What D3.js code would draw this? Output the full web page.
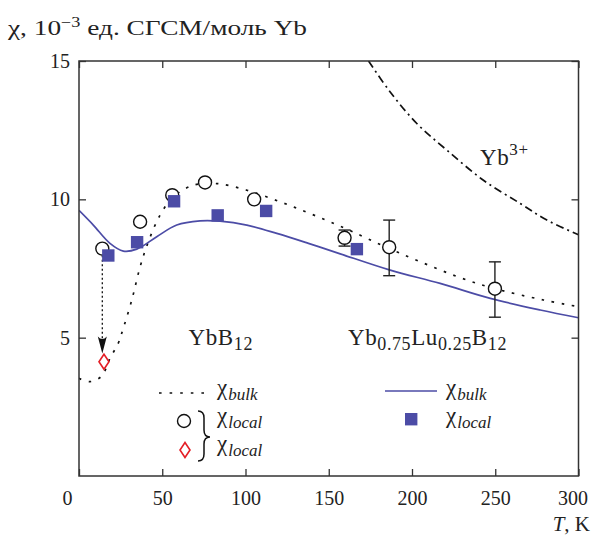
<!DOCTYPE html>
<html>
<head>
<meta charset="utf-8">
<script src="https://cdn.jsdelivr.net/npm/d3@7"></script>
<style>
  body { margin: 0; background: #fff; }
  svg text { font-family: "Liberation Serif", "DejaVu Serif", serif; fill: #222; }
</style>
</head>
<body>
<svg id="canvas"></svg>
<script>
//--axis ticks
let tempTicks = [0, 50, 100, 150, 200, 250, 300]
let chiTicks = [5, 10, 15]
//--

//--series, [T (K), chi (10^-3 emu/mol Yb)]
let bulkYbB12 = [[0, 3.53], [6.6, 3.41], [13.6, 3.61], [18.6, 4.25], [23.6, 4.8], [25.6, 5.15], [31.7, 6.36], [36.7, 7.56],
  [41.6, 8.46], [48.7, 9.43], [56.7, 10.09], [68.7, 10.51], [82.7, 10.57], [100.8, 10.33], [120.8, 9.91], [137.8, 9.51],
  [156.9, 9.03], [192.9, 8.05], [239, 6.96], [279, 6.36], [300, 6.12]]
let bulkYbLu = [[0, 9.6], [8.6, 9.07], [18.6, 8.41], [26.6, 8.13], [34.7, 8.2], [46.7, 8.65], [58.7, 9.07], [72.7, 9.22],
  [84.7, 9.21], [100.8, 9.07], [118.8, 8.77], [137.8, 8.41], [156.9, 8.03], [186.9, 7.44], [216.9, 6.96], [247, 6.42],
  [277, 6.0], [300, 5.72]]
let freeIon = [[173.9, 15.0], [186.9, 13.88], [202.9, 12.74], [220.9, 11.78], [242.9, 10.69], [265, 9.85], [281, 9.25], [300, 8.72]]
let localYbB12 = [[14, 8.22], [36.7, 9.19], [56, 10.15], [75.7, 10.61], [105.2, 10.0], [159.5, 8.61], [186.3, 8.27], [249.8, 6.77]]
let localErr = [null, null, null, null, null, [8.31, 8.89], [7.24, 9.25], [5.74, 7.74]]
let localYbLu = [[17.6, 7.97], [34.9, 8.45], [57.1, 9.93], [83.3, 9.42], [112.4, 9.58], [166.9, 8.2]]
let localLowT = [[15, 4.13]]
let arrowT = 14
let arrowFrom = 7.98
let arrowTo = 4.43
//--

//--canvas
let width = 592
let height = 535
let mLeft = 79, mRight = 578.5, mTop = 61, mBottom = 476

let canvas = d3.select("#canvas").attr("width", width).attr("height", height)

let x = d3.scaleLinear().domain([0, 300]).range([mLeft, mRight])
let y = d3.scaleLinear().domain([0, 15]).range([mBottom, mTop])

let blue = "#4c4ca6"
//--

//--clip + curves
canvas.append("clipPath").attr("id", "plot")
  .append("rect").attr("x", mLeft).attr("y", mTop).attr("width", mRight - mLeft).attr("height", mBottom - mTop)

let line = d3.line().x(d => x(d[0])).y(d => y(d[1])).curve(d3.curveCatmullRom.alpha(0.5))

let curves = canvas.append("g").attr("clip-path", "url(#plot)")

curves.append("path").attr("d", line(bulkYbB12))
  .attr("fill", "none").attr("stroke", "#111").attr("stroke-width", 1.7).attr("stroke-dasharray", "2.6,7.6")

curves.append("path").attr("d", line(bulkYbLu))
  .attr("fill", "none").attr("stroke", blue).attr("stroke-width", 1.7)

curves.append("path").attr("d", line(freeIon))
  .attr("fill", "none").attr("stroke", "#111").attr("stroke-width", 1.7).attr("stroke-dasharray", "8,4,2,4")
//--

//--arrow from the circle down to the diamond
canvas.append("line")
  .attr("x1", x(arrowT)).attr("x2", x(arrowT))
  .attr("y1", y(arrowFrom)).attr("y2", y(arrowTo) - 10)
  .attr("stroke", "#111").attr("stroke-width", 1.3).attr("stroke-dasharray", "2,2.5")

let ax = x(arrowT), ay = y(arrowTo)
canvas.append("path")
  .attr("d", `M${ax},${ay} L${ax - 4.5},${ay - 17} Q${ax},${ay - 12} ${ax + 4.5},${ay - 17} Z`)
  .attr("fill", "#111")
//--

//--error bars and markers
let errs = canvas.append("g").attr("stroke", "#222").attr("stroke-width", 1.4)
localYbB12.forEach((d, i) => {
  let e = localErr[i]
  if (!e) return
  errs.append("line").attr("x1", x(d[0])).attr("x2", x(d[0])).attr("y1", y(e[0])).attr("y2", y(e[1]))
  errs.append("line").attr("x1", x(d[0]) - 6).attr("x2", x(d[0]) + 6).attr("y1", y(e[0])).attr("y2", y(e[0]))
  errs.append("line").attr("x1", x(d[0]) - 6).attr("x2", x(d[0]) + 6).attr("y1", y(e[1])).attr("y2", y(e[1]))
})

canvas.selectAll("circle.loc")
  .data(localYbB12)
  .enter()
  .append("circle")
  .attr("class", "loc")
  .attr("cx", d => x(d[0]))
  .attr("cy", d => y(d[1]))
  .attr("r", 6.5)
  .attr("fill", "#fff")
  .attr("stroke", "#111")
  .attr("stroke-width", 1.4)

canvas.selectAll("rect.sq")
  .data(localYbLu)
  .enter()
  .append("rect")
  .attr("class", "sq")
  .attr("x", d => x(d[0]) - 6.2)
  .attr("y", d => y(d[1]) - 6.2)
  .attr("width", 12.4)
  .attr("height", 12.4)
  .attr("fill", blue)

canvas.selectAll("path.dia")
  .data(localLowT)
  .enter()
  .append("path")
  .attr("class", "dia")
  .attr("d", d => {
    let cx = x(d[0]), cy = y(d[1])
    return `M${cx},${cy - 7.5} L${cx + 5},${cy} L${cx},${cy + 7.5} L${cx - 5},${cy} Z`
  })
  .attr("fill", "#fff")
  .attr("stroke", "#e41e26")
  .attr("stroke-width", 1.6)
//--

//--frame and ticks (all ticks point inward)
canvas.append("rect")
  .attr("x", mLeft).attr("y", mTop).attr("width", mRight - mLeft).attr("height", mBottom - mTop)
  .attr("fill", "none").attr("stroke", "#333").attr("stroke-width", 1.5)

let xb = canvas.append("g").attr("transform", `translate(0,${mBottom})`)
  .call(d3.axisBottom(x).tickValues(tempTicks).tickSize(-7).tickPadding(15).tickFormat(d3.format("d")))
let xt = canvas.append("g").attr("transform", `translate(0,${mTop})`)
  .call(d3.axisTop(x).tickValues(tempTicks).tickSize(-7).tickFormat(""))
let yl = canvas.append("g").attr("transform", `translate(${mLeft},0)`)
  .call(d3.axisLeft(y).tickValues(chiTicks).tickSize(-7).tickPadding(9))
let yr = canvas.append("g").attr("transform", `translate(${mRight},0)`)
  .call(d3.axisRight(y).tickValues(chiTicks).tickSize(-7).tickFormat(""))

;[xb, xt, yl, yr].forEach(g => {
  g.select(".domain").remove()
  g.selectAll(".tick line").attr("stroke", "#333").attr("stroke-width", 1.3)
  g.selectAll("text").attr("font-size", 20).attr("font-family", "Liberation Serif").attr("fill", "#222")
})
xb.selectAll(".tick text").attr("dx", d => d == 0 ? -12 : d == 300 ? -6 : 0)
//--

//--texts
let title = canvas.append("text").attr("x", 8).attr("y", 35).attr("font-size", 21)
  .attr("textLength", 299).attr("lengthAdjust", "spacingAndGlyphs")
title.append("tspan").text("χ, 10")
title.append("tspan").text("−3").attr("font-size", 14).attr("dy", -8)
title.append("tspan").text(" ед. СГСМ/моль Yb").attr("dy", 8)

let tk = canvas.append("text").attr("x", 590).attr("y", 531).attr("font-size", 21).attr("text-anchor", "end")
tk.append("tspan").text("T").attr("font-style", "italic")
tk.append("tspan").text(", K")

let l1 = canvas.append("text").attr("x", 253).attr("y", 345).attr("text-anchor", "end").attr("letter-spacing", 0.6)
l1.append("tspan").text("YbB").attr("font-size", 23)
l1.append("tspan").text("12").attr("font-size", 18).attr("dy", 5)

let l2 = canvas.append("text").attr("x", 507).attr("y", 345).attr("text-anchor", "end").attr("letter-spacing", 0.6)
l2.append("tspan").text("Yb").attr("font-size", 23)
l2.append("tspan").text("0.75").attr("font-size", 18).attr("dy", 5)
l2.append("tspan").text("Lu").attr("font-size", 23).attr("dy", -5)
l2.append("tspan").text("0.25").attr("font-size", 18).attr("dy", 5)
l2.append("tspan").text("B").attr("font-size", 23).attr("dy", -5)
l2.append("tspan").text("12").attr("font-size", 18).attr("dy", 5)

let l3 = canvas.append("text").attr("x", 480).attr("y", 165).attr("letter-spacing", 0.6)
l3.append("tspan").text("Yb").attr("font-size", 23)
l3.append("tspan").text("3+").attr("font-size", 17).attr("dy", -10)
//--

//--legend
let chiLabel = (px, py, low) => {
  let t = canvas.append("text").attr("x", px).attr("y", py)
  t.append("tspan").text("χ").attr("font-size", 23)
  t.append("tspan").text(low).attr("font-size", 17).attr("font-style", "italic").attr("dy", 5).attr("dx", 1)
}

canvas.append("line").attr("x1", 159).attr("x2", 212).attr("y1", 393).attr("y2", 393)
  .attr("stroke", "#111").attr("stroke-width", 1.7).attr("stroke-dasharray", "2.6,8")
chiLabel(217, 395, "bulk")

canvas.append("circle").attr("cx", 184).attr("cy", 421).attr("r", 6.5)
  .attr("fill", "#fff").attr("stroke", "#111").attr("stroke-width", 1.4)
chiLabel(217, 423, "local")

canvas.append("path").attr("d", "M185,442.5 L190,450 L185,457.5 L180,450 Z")
  .attr("fill", "#fff").attr("stroke", "#e41e26").attr("stroke-width", 1.6)
chiLabel(217, 451, "local")

canvas.append("path")
  .attr("d", "M198,411 Q204,411 204,418 L204,430 Q204,437 210,437 Q204,437 204,444 L204,454 Q204,461 198,461")
  .attr("fill", "none").attr("stroke", "#111").attr("stroke-width", 1.5)

canvas.append("line").attr("x1", 385).attr("x2", 437).attr("y1", 391).attr("y2", 391)
  .attr("stroke", blue).attr("stroke-width", 1.7)
chiLabel(446, 395, "bulk")

canvas.append("rect").attr("x", 405).attr("y", 413).attr("width", 12.4).attr("height", 12.4).attr("fill", blue)
chiLabel(446, 423, "local")
//--
</script>
</body>
</html>
